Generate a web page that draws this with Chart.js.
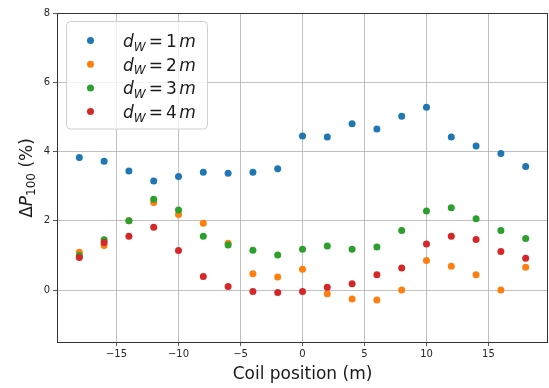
<!DOCTYPE html>
<html>
<head>
<meta charset="utf-8">
<script src="https://cdn.jsdelivr.net/npm/chart.js@4/dist/chart.umd.min.js"></script>
<style>
  html, body { margin: 0; padding: 0; background: #fff; }
  #wrap { width: 549px; height: 388px; }
</style>
</head>
<body>
<div id="wrap"><canvas id="scatter" width="549" height="388"></canvas></div>
<script>
// coil positions (m)
var coilPos = [-18, -16, -14, -12, -10, -8, -6, -4, -2, 0, 2, 4, 6, 8, 10, 12, 14, 16, 18];

// delta P100 (%) for each wire distance
var dw1 = [3.83, 3.72, 3.44, 3.15, 3.28, 3.40, 3.37, 3.40, 3.50, 4.45, 4.42, 4.80, 4.65, 5.02, 5.28, 4.42, 4.16, 3.94, 3.57];
var dw2 = [1.09, 1.29, 2.00, 2.53, 2.18, 1.93, 1.35, 0.47, 0.38, 0.60, -0.11, -0.26, -0.29, 0.00, 0.85, 0.69, 0.44, 0.00, 0.66];
var dw3 = [1.00, 1.45, 2.00, 2.62, 2.31, 1.55, 1.30, 1.15, 1.01, 1.18, 1.27, 1.18, 1.24, 1.72, 2.28, 2.38, 2.06, 1.72, 1.49];
var dw4 = [0.94, 1.37, 1.55, 1.81, 1.14, 0.39, 0.10, -0.04, -0.07, -0.04, 0.08, 0.18, 0.44, 0.64, 1.33, 1.55, 1.46, 1.11, 0.92];

var distances = ['1', '2', '3', '4'];
var colors = ['#1f77b4', '#ff7f0e', '#2ca02c', '#d62728'];
var xTicks = [-15, -10, -5, 0, 5, 10, 15];
var yTicks = [0, 2, 4, 6, 8];

var allSeries = [dw1, dw2, dw3, dw4];

function toPoints(vals) {
    return vals.map(function (v, i) { return { x: coilPos[i], y: v }; });
}

// draw a list of text runs (font / baseline shift) one after another
function runsWidth(ctx, runs) {
    var w = 0;
    runs.forEach(function (r) {
        ctx.font = r.font;
        w += ctx.measureText(r.text).width + (r.gap || 0);
    });
    return w;
}
function drawRuns(ctx, runs, x, y) {
    runs.forEach(function (r) {
        ctx.font = r.font;
        ctx.fillText(r.text, x, y + (r.dy || 0));
        x += ctx.measureText(r.text).width + (r.gap || 0);
    });
}

var FONT = '"DejaVu Sans", sans-serif';

var decorations = {
    id: 'decorations',
    afterDatasetsDraw: function (chart) {
        var ctx = chart.ctx;
        var a = chart.chartArea;
        ctx.save();

        // spines
        ctx.strokeStyle = '#333';
        ctx.lineWidth = 1;
        ctx.strokeRect(Math.round(a.left) + 0.5, Math.round(a.top) + 0.5,
            Math.round(a.right - a.left) - 1, Math.round(a.bottom - a.top));

        // legend
        var bx = 66.5, by = 21.5, bw = 141, bh = 107.5, r = 4;
        ctx.beginPath();
        ctx.moveTo(bx + r, by);
        ctx.arcTo(bx + bw, by, bx + bw, by + bh, r);
        ctx.arcTo(bx + bw, by + bh, bx, by + bh, r);
        ctx.arcTo(bx, by + bh, bx, by, r);
        ctx.arcTo(bx, by, bx + bw, by, r);
        ctx.closePath();
        ctx.fillStyle = 'rgba(255,255,255,0.8)';
        ctx.fill();
        ctx.strokeStyle = '#d0d0d0';
        ctx.stroke();

        ctx.textBaseline = 'alphabetic';
        ctx.textAlign = 'left';
        distances.forEach(function (d, i) {
            var cy = 40.5 + i * 23.7;
            ctx.fillStyle = colors[i];
            ctx.beginPath();
            ctx.arc(90.5, cy, 3.5, 0, Math.PI * 2);
            ctx.fill();
            ctx.fillStyle = '#1a1a1a';
            drawRuns(ctx, [
                { text: 'd', font: 'italic 17px ' + FONT },
                { text: 'W', font: 'italic 12px ' + FONT, dy: 3.5, gap: 3 },
                { text: '=', font: '17px ' + FONT, gap: 3 },
                { text: d, font: '17px ' + FONT, gap: 2.5 },
                { text: 'm', font: 'italic 17px ' + FONT }
            ], 123, cy + 6.5);
        });

        // x title
        ctx.fillStyle = '#1a1a1a';
        ctx.font = '17px ' + FONT;
        ctx.textAlign = 'center';
        ctx.fillText('Coil position (m)', (a.left + a.right) / 2, 379);

        // y title, rotated
        var yRuns = [
            { text: '\u0394', font: '17px ' + FONT },
            { text: 'P', font: 'italic 17px ' + FONT },
            { text: '100', font: '12px ' + FONT, dy: 3.5 },
            { text: ' (%)', font: '17px ' + FONT }
        ];
        ctx.textAlign = 'left';
        var w = runsWidth(ctx, yRuns);
        ctx.translate(31.5, 178);
        ctx.rotate(-Math.PI / 2);
        drawRuns(ctx, yRuns, -w / 2, 0);

        ctx.restore();
    }
};

var ctx = document.getElementById('scatter').getContext('2d');
var chart = new Chart(ctx, {
    type: 'scatter',
    data: {
        datasets: allSeries.map(function (vals, i) {
            return {
                label: 'd_W = ' + distances[i] + ' m',
                data: toPoints(vals),
                backgroundColor: colors[i],
                borderWidth: 0,
                pointRadius: 3.5,
                order: allSeries.length - 1 - i // red on top
            };
        })
    },
    options: {
        responsive: false,
        animation: false,
        devicePixelRatio: 1,
        events: [],
        layout: { autoPadding: false, padding: { left: 0, top: 13, right: 1, bottom: 0 } },
        plugins: {
            legend: { display: false },
            tooltip: { enabled: false }
        },
        scales: {
            x: {
                type: 'linear',
                min: -19.8,
                max: 19.8,
                afterBuildTicks: function (scale) {
                    scale.ticks = xTicks.map(function (v) { return { value: v }; });
                },
                afterFit: function (scale) {
                    scale.height = 46;
                    scale.paddingLeft = 0;
                    scale.paddingRight = 0;
                },
                grid: { color: '#b0b0b0', lineWidth: 0.8, tickColor: '#333', tickLength: 4 },
                border: { display: false },
                ticks: {
                    padding: 2,
                    color: '#262626',
                    font: { family: 'DejaVu Sans', size: 10 },
                    maxRotation: 0,
                    callback: function (v) { return String(v).replace('-', '\u2212'); }
                }
            },
            y: {
                type: 'linear',
                min: -1.5,
                max: 8,
                afterBuildTicks: function (scale) {
                    scale.ticks = yTicks.map(function (v) { return { value: v }; });
                },
                afterFit: function (scale) {
                    scale.width = 57;
                    scale.paddingTop = 0;
                    scale.paddingBottom = 0;
                },
                grid: { color: '#b0b0b0', lineWidth: 0.8, tickColor: '#333', tickLength: 4 },
                border: { display: false },
                ticks: {
                    padding: 3,
                    color: '#262626',
                    font: { family: 'DejaVu Sans', size: 10 },
                    callback: function (v) { return String(v); }
                }
            }
        }
    },
    plugins: [decorations]
});
</script>
</body>
</html>
